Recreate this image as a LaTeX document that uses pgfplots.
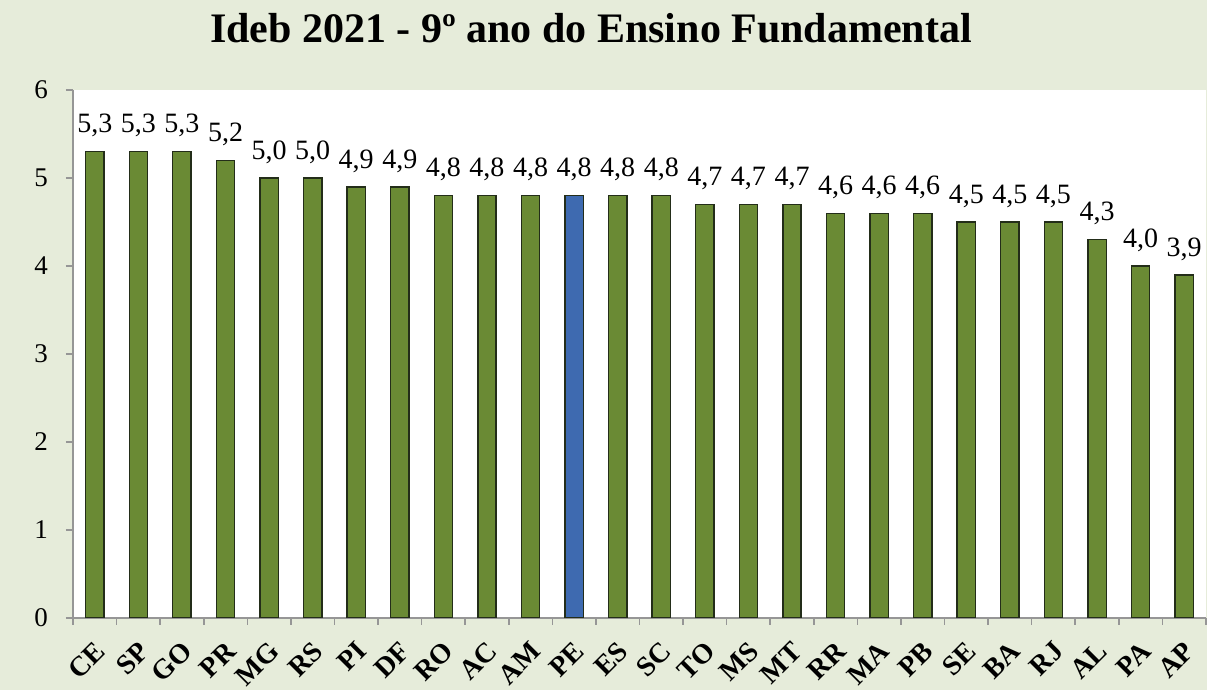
\documentclass[border=0pt]{standalone}
\usepackage{fontspec}
\setmainfont{Liberation Serif}
\usepackage{pgfplots}
\pgfplotsset{compat=1.18}
\definecolor{bg}{RGB}{230,236,218}
\definecolor{bargreen}{RGB}{106,138,52}
\definecolor{barblue}{RGB}{62,106,176}
\definecolor{barline}{RGB}{35,45,25}
\definecolor{axisgray}{RGB}{150,150,150}
\begin{document}
\begin{tikzpicture}
\fill[bg] (0,0) rectangle (603.5pt,345pt);
\node[font=\bfseries\fontsize{21}{24}\selectfont, anchor=base, inner sep=0pt] at (295.5pt,323.5pt) {Ideb 2021 - 9º ano do Ensino Fundamental};
\begin{axis}[
  at={(36.5pt,36pt)}, anchor=south west,
  scale only axis, width=566.5pt, height=264pt,
  xmin=-0.5, xmax=25.5, ymin=0, ymax=6,
  axis background/.style={fill=white},
  axis x line*=bottom, axis y line*=left,
  axis line style={draw=axisgray, line width=0.8pt, -},
  tick align=outside,
  ytick={0,...,6},
  xtick={-0.5,0.5,...,25.5}, xticklabels={},
  major tick length=3.5pt,
  tick style={draw=axisgray, line width=0.8pt},
  extra x ticks={0,...,25},
  extra x tick labels={CE,SP,GO,PR,MG,RS,PI,DF,RO,AC,AM,PE,ES,SC,TO,MS,MT,RR,MA,PB,SE,BA,RJ,AL,PA,AP},
  extra x tick style={major tick length=0pt},
  xticklabel style={xshift=3.5pt, yshift=-13.5pt, rotate=45, anchor=east, inner sep=1pt, font=\bfseries\fontsize{14}{16}\selectfont},
  yticklabel style={font=\fontsize{13.5}{15}\selectfont, xshift=-5.5pt},
  /pgf/number format/assume math mode=true,
  nodes near coords={\pgfmathprintnumber[use comma, fixed, fixed zerofill, precision=1]{\pgfplotspointmeta}},
  nodes near coords style={font=\fontsize{14}{16}\selectfont, yshift=3.5pt},
]
\addplot[ybar, bar width=0.42, bar shift=0pt, fill=bargreen, draw=barline, line width=0.7pt] coordinates {
(0,5.3) (1,5.3) (2,5.3) (3,5.2) (4,5.0) (5,5.0) (6,4.9) (7,4.9) (8,4.8) (9,4.8) (10,4.8)
(12,4.8) (13,4.8) (14,4.7) (15,4.7) (16,4.7) (17,4.6) (18,4.6) (19,4.6) (20,4.5) (21,4.5) (22,4.5) (23,4.3) (24,4.0) (25,3.9)
};
\addplot[ybar, bar width=0.42, bar shift=0pt, fill=barblue, draw=barline, line width=0.7pt] coordinates {
(11,4.8)
};
\end{axis}
\pgfresetboundingbox
\useasboundingbox (0,0) rectangle (603.5pt,345pt);
\end{tikzpicture}
\end{document}
